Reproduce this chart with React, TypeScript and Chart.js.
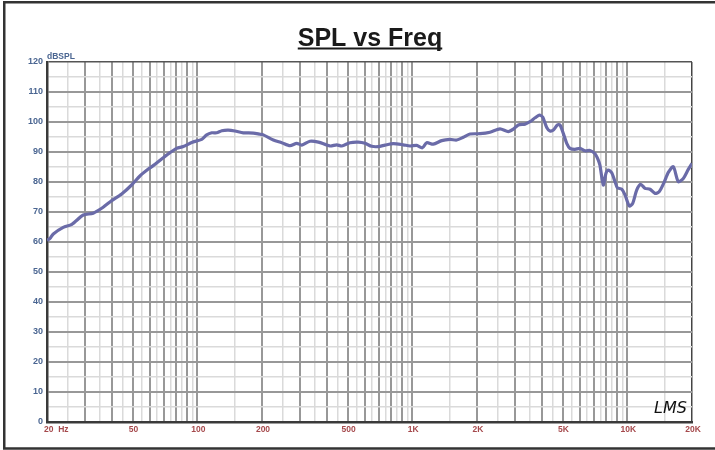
import React, { useEffect, useRef } from "react";
import { Chart, registerables } from "chart.js";

Chart.register(...registerables);

const freqHz = [
  20, 20.65, 21.4, 23.8, 26.1, 29.5, 32.8, 36.5, 40, 44.5, 49.5, 54.1, 59.2, 63.6, 69.5, 74.7, 80.2, 86.1, 94.2,
  104.9, 110.6, 116.8, 123, 130, 139.4, 149.8, 163.8, 182.3, 195.8, 202.8, 225.8, 247, 270, 290, 306, 334, 366,
  414, 445, 470, 513, 561, 603, 647, 695, 747, 816, 908, 976, 1049, 1113, 1167, 1252, 1370, 1497, 1609, 1727,
  1856, 2066, 2298, 2558, 2796, 2950, 3113, 3344, 3528, 3724, 3898, 4043, 4220, 4372, 4530, 4727, 4864, 5040,
  5228, 5414, 5712, 6026, 6360, 6708, 7076, 7330, 7466, 7736, 7962, 8160, 8464, 8770, 8990, 9420, 9760, 10218,
  10600, 11060, 11546, 12090, 12756, 13460, 14094, 14820, 15520, 16370, 17276, 18220, 19220, 20000,
];
const splDb = [
  60.5, 61.2, 62.7, 64.9, 65.9, 69, 69.6, 71.6, 73.8, 76, 79, 82, 84.3, 85.9, 88.1, 89.8, 91.2, 91.8, 93.2,
  94.2, 95.7, 96.4, 96.4, 97.1, 97.3, 97, 96.4, 96.3, 95.9, 95.7, 94, 93.1, 92.1, 92.9, 92.3, 93.6, 93.3,
  92, 92.4, 92, 93.1, 93.3, 92.9, 91.9, 91.8, 92.3, 92.8, 92.4, 92, 92.2, 91.4, 93.1, 92.6, 93.8, 94.2, 94, 94.9,
  96, 96.1, 96.6, 97.7, 96.8, 97.6, 99, 99.3, 100.1, 101.4, 102.3, 101.6, 98.2, 97, 97.3, 99, 99, 96.2,
  92.9, 91.2, 90.9, 91.2, 90.4, 90.5, 89.4, 87.3, 85.5, 79, 82.9, 84, 83.1, 80.1, 78.1, 77.6, 75.7, 72,
  72.9, 77.3, 79.2, 77.9, 77.6, 76.2, 76.8, 79.8, 83.2, 85.1, 80.1, 81.2, 84.2, 86.2,
];

const xMajorTicks = [20, 30, 40, 50, 60, 70, 80, 90, 100, 200, 300, 400, 500, 600, 700, 800, 900, 1000, 2000, 3000, 4000, 5000, 6000, 7000, 8000, 9000, 10000, 20000];
const xMinorTicks = [25, 35, 45, 55, 65, 75, 85, 95, 150, 250, 350, 450, 550, 650, 750, 850, 950, 1500, 2500, 3500, 4500, 5500, 6500, 7500, 8500, 9500, 15000];
const xLabelValues = [20, 50, 100, 200, 500, 1000, 2000, 5000, 10000, 20000];
const xLabelTexts = ["20  Hz", "50", "100", "200", "500", "1K", "2K", "5K", "10K", "20K"];
const yTickValues = [0, 5, 10, 15, 20, 25, 30, 35, 40, 45, 50, 55, 60, 65, 70, 75, 80, 85, 90, 95, 100, 105, 110, 115, 120];

const titleText = "SPL vs Freq";
const yUnitText = "dBSPL";
const logoText = "LMS";

const FONT = '"Liberation Sans", Arial, sans-serif';

export default function App() {
  const ref = useRef<HTMLCanvasElement | null>(null);

  useEffect(() => {
    if (!ref.current) return;
    const decor = {
      id: "decor",
      beforeDraw(chart: any) {
        const c = chart.ctx;
        c.save();
        c.fillStyle = "#ffffff";
        c.fillRect(0, 0, chart.width, chart.height);
        c.strokeStyle = "#333333";
        c.lineWidth = 2.5;
        c.beginPath();
        c.moveTo(chart.width + 5, 2.25);
        c.lineTo(4.25, 2.25);
        c.lineTo(4.25, 448.5);
        c.lineTo(chart.width + 5, 448.5);
        c.stroke();
        c.restore();
      },
      afterDraw(chart: any) {
        const c = chart.ctx;
        const xs = chart.scales.x;
        const area = chart.chartArea;
        c.save();
        // title
        c.font = `bold 25px ${FONT}`;
        c.fillStyle = "#1a1a1a";
        c.textAlign = "center";
        c.textBaseline = "alphabetic";
        const tx = 370;
        c.fillText(titleText, tx, 46);
        const w = c.measureText(titleText).width;
        c.fillRect(tx - w / 2, 47.5, w, 2);
        // unit label
        c.font = `bold 8.5px ${FONT}`;
        c.fillStyle = "#4a6591";
        c.textAlign = "left";
        c.textBaseline = "middle";
        c.fillText(yUnitText, area.left, 56.5);
        // x labels
        c.fillStyle = "#a5494c";
        c.textBaseline = "middle";
        xLabelValues.forEach((v, i) => {
          const px = xs.getPixelForValue(v);
          if (i === 0) {
            c.textAlign = "left";
            c.fillText(xLabelTexts[i], px - 3, 429.5);
          } else {
            c.textAlign = "center";
            c.fillText(xLabelTexts[i], px + 1, 429.5);
          }
        });
        // logo
        c.font = `italic 16px "DejaVu Sans", sans-serif`;
        c.fillStyle = "#111111";
        c.textAlign = "left";
        c.textBaseline = "alphabetic";
        c.fillText(logoText, 654, 413);
        c.restore();
      },
    };

    const chart = new Chart(ref.current, {
      type: "line",
      data: {
        datasets: [
          {
            data: freqHz.map((f, i) => ({ x: f, y: splDb[i] })),
            borderColor: "#6a6ba8",
            borderWidth: 3.2,
            pointRadius: 0,
            tension: 0.25,
            fill: false,
          },
        ],
      },
      options: {
        animation: false,
        responsive: false,
        devicePixelRatio: 1,
        layout: { padding: { top: 62, right: 23, left: 0, bottom: 0 } },
        plugins: { legend: { display: false }, tooltip: { enabled: false }, title: { display: false } },
        scales: {
          x: {
            type: "logarithmic",
            min: 20,
            max: 20000,
            afterBuildTicks: (s: any) => {
              s.ticks = [...xMajorTicks, ...xMinorTicks].sort((a, b) => a - b).map((v) => ({ value: v }));
            },
            afterFit: (s: any) => {
              s.height = 28;
            },
            ticks: { display: false },
            grid: {
              drawTicks: false,
              color: (ctx: any) => {
                const v = ctx.tick?.value;
                if (v === 20000) return "#444444";
                return xMinorTicks.includes(v) ? "#dadada" : "#989898";
              },
              lineWidth: (ctx: any) => {
                const v = ctx.tick?.value;
                if (v === 20000) return 1.5;
                return xMinorTicks.includes(v) ? 1.5 : 2;
              },
            },
            border: { display: true, color: "#3a3a3a", width: 2.5 },
          },
          y: {
            type: "linear",
            min: 0,
            max: 120,
            afterBuildTicks: (s: any) => {
              s.ticks = yTickValues.map((v) => ({ value: v }));
            },
            afterFit: (s: any) => {
              s.width = 47;
            },
            ticks: {
              color: "#4a6591",
              font: { family: FONT, size: 9, weight: "bold" },
              padding: 4,
              callback: (v: any) => (Number(v) % 10 === 0 ? String(v) : ""),
            },
            grid: {
              drawTicks: false,
              color: (ctx: any) => {
                const v = ctx.tick?.value;
                if (v === 120) return "#555555";
                return v % 10 === 0 ? "#989898" : "#dadada";
              },
              lineWidth: (ctx: any) => {
                const v = ctx.tick?.value;
                if (v === 120) return 1.5;
                return v % 10 === 0 ? 2 : 1.5;
              },
            },
            border: { display: true, color: "#3a3a3a", width: 2.5 },
          },
        },
      },
      plugins: [decor],
    });
    return () => chart.destroy();
  }, []);

  return (
    <div style={{ position: "absolute", left: 0, top: 0, width: 715, height: 450 }}>
      <canvas ref={ref} width={715} height={450} />
    </div>
  );
}
